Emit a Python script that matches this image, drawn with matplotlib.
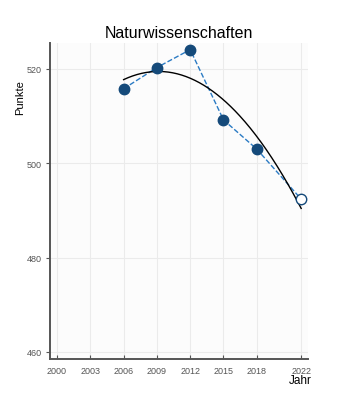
import matplotlib
matplotlib.use("Agg")
from matplotlib import pyplot as plt
import numpy as np

plt.rcParams['font.family'] = ['Liberation Sans', 'DejaVu Sans']

# data
years = [2006, 2009, 2012, 2015, 2018, 2022]
points = [515.8, 520.3, 524.1, 509.2, 503.0, 492.4]
x_ticks = [2000, 2003, 2006, 2009, 2012, 2015, 2018, 2022]
y_ticks = [460, 480, 500, 520]

fig = plt.figure(figsize=(3.6, 4.02), dpi=100)
ax = fig.add_axes([0.139, 0.1045, 0.717, 0.786])
ax.set_facecolor('#fcfcfc')

# trend (quadratic fit)
coef = np.polyfit(years, points, 2)
xs = np.linspace(2006, 2022, 200)
ax.plot(xs, np.polyval(coef, xs), color='black', lw=1.0, zorder=3)

ax.plot(years, points, '--', color='#2b7bc4', lw=1.0, zorder=2)
ax.plot(years[:-1], points[:-1], 'o', color='#154a7a', ms=7.5, zorder=4)
ax.plot(years[-1:], points[-1:], 'o', mfc='white', mec='#154a7a', mew=1.0, ms=7.5, zorder=4)

ax.set_xlim(1999.37, 2022.63)
ax.set_ylim(458.5, 525.5)
ax.set_xticks(x_ticks)
ax.set_yticks(y_ticks)
ax.grid(True, color='#ebebeb', lw=0.8, zorder=0)
ax.set_axisbelow(True)

for s in ['top', 'right']:
    ax.spines[s].set_visible(False)
for s in ['left', 'bottom']:
    ax.spines[s].set_color('#555555')
    ax.spines[s].set_linewidth(1.4)

ax.tick_params(axis='x', direction='in', length=3, color='#555555', labelsize=6.5, labelcolor='#555555', pad=5)
ax.tick_params(axis='y', direction='out', length=3, color='#555555', labelsize=6.5, labelcolor='#555555', pad=3)

ax.set_title('Naturwissenschaften', fontsize=11.5, pad=4)
fig.text(0.866, 0.052, 'Jahr', fontsize=8.5, ha='right', va='center')
fig.text(0.055, 0.758, 'Punkte', fontsize=8, rotation=90, ha='center', va='center')

plt.savefig("out.png", dpi=100)
